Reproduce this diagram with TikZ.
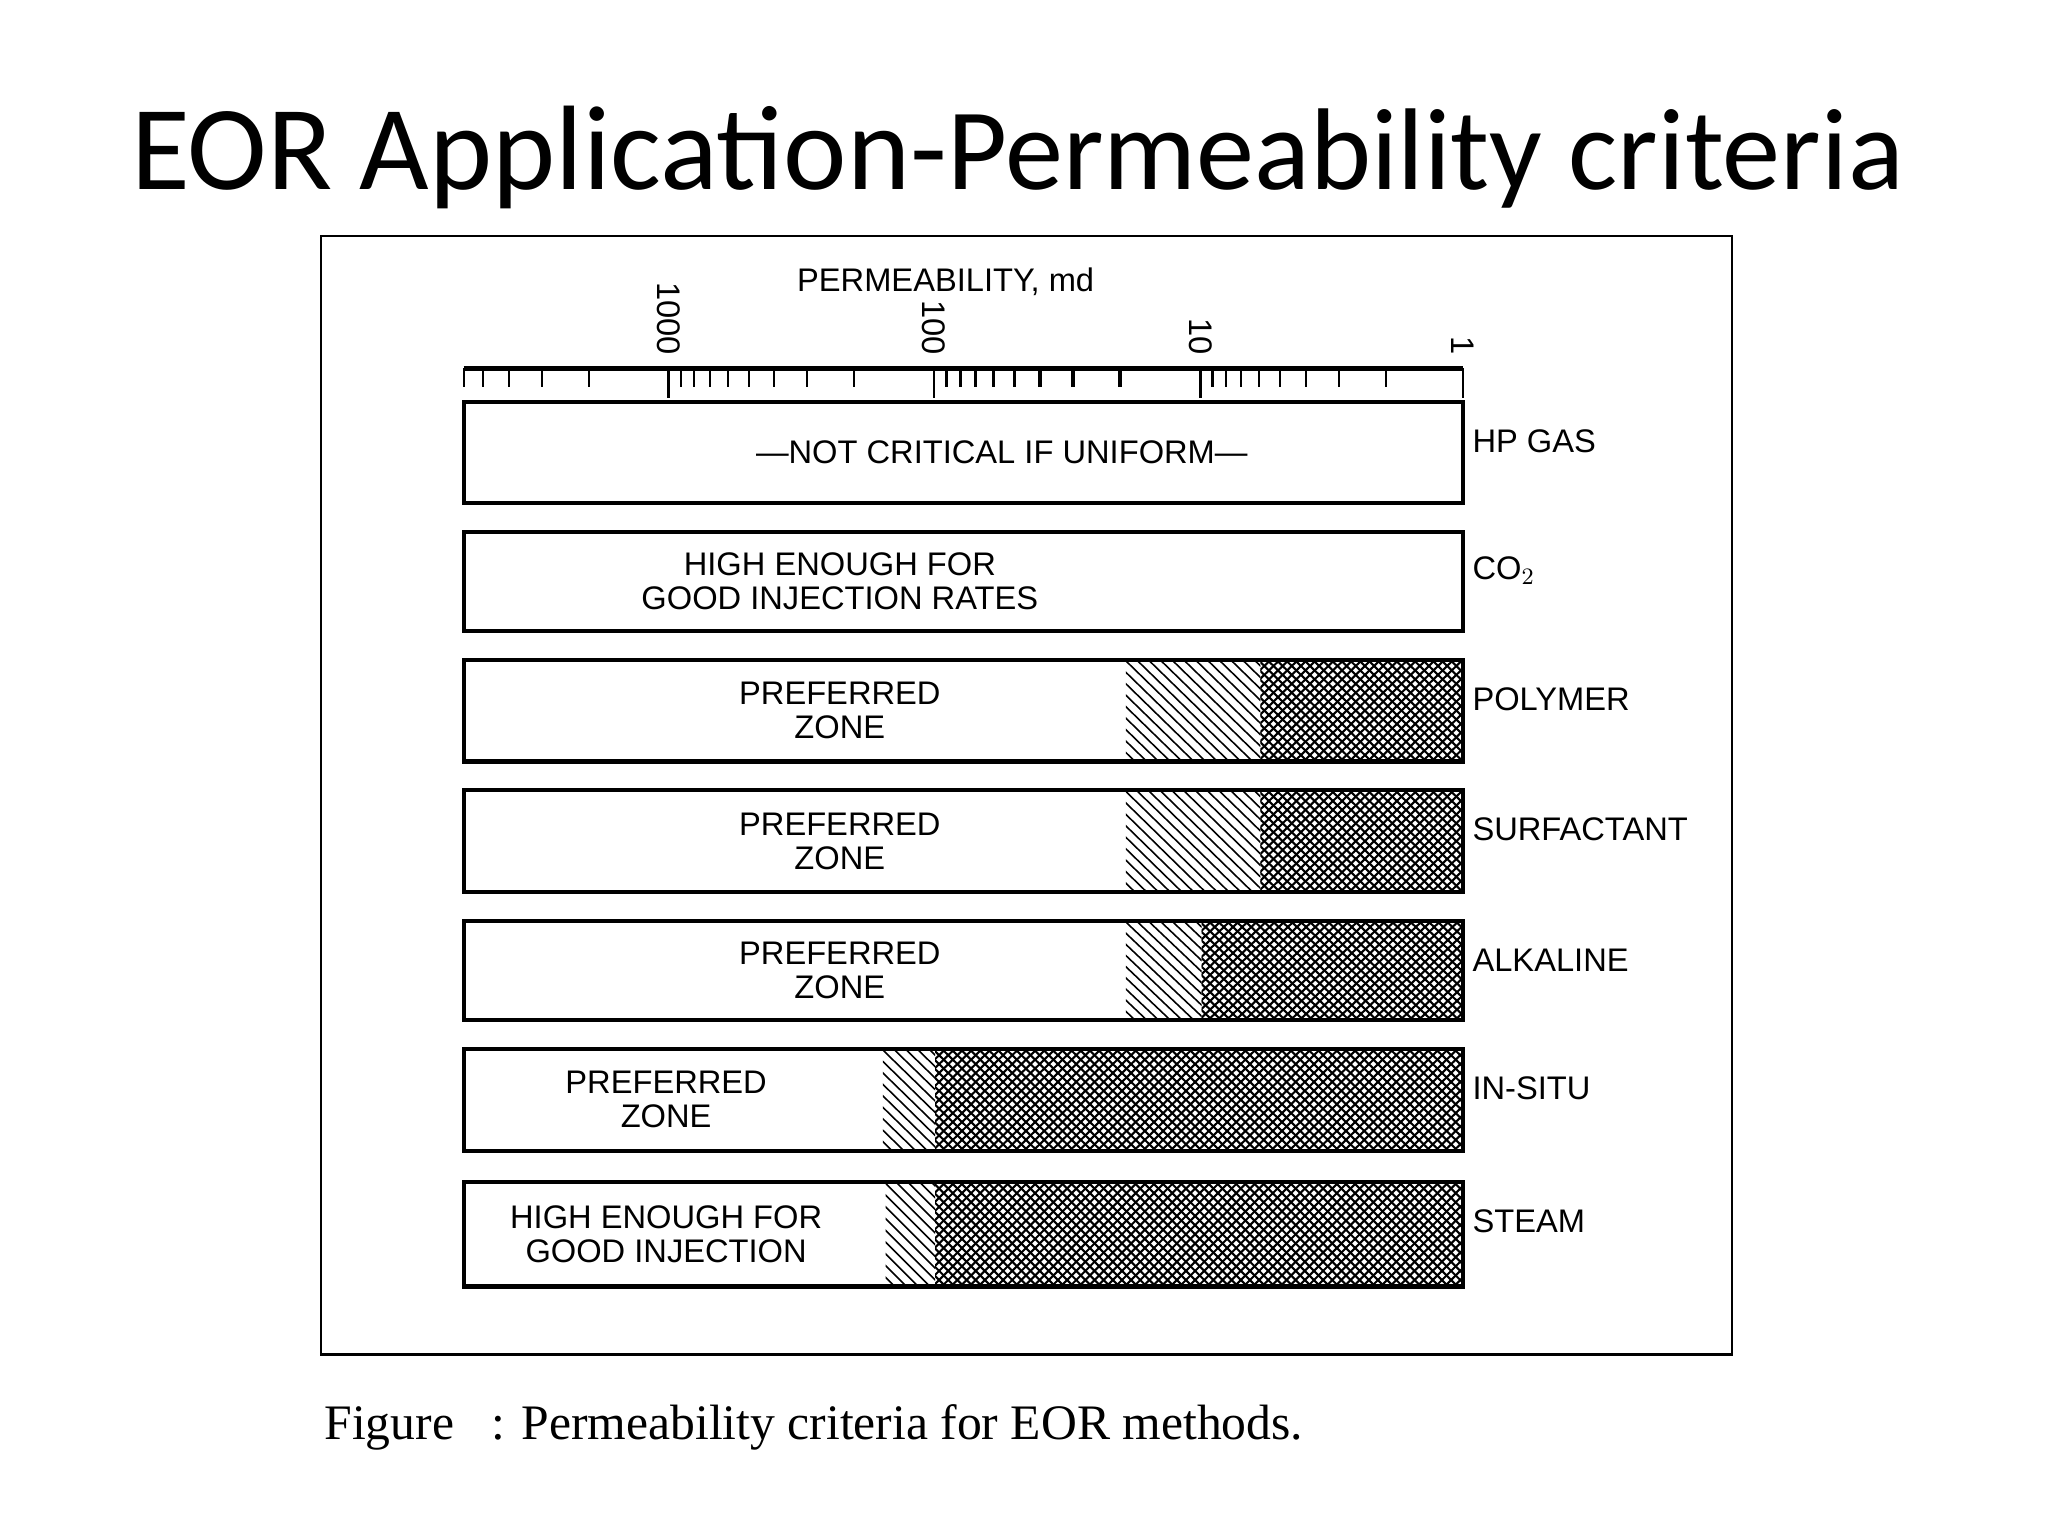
\documentclass[tikz,border=0pt]{standalone}
\usepackage{fontspec}
\setmainfont{Liberation Sans}
\newfontfamily\titlef{Carlito}
\newfontfamily\capf{Liberation Serif}
\begin{document}
\begin{tikzpicture}[x=0.5pt,y=-0.5pt,
  lab/.style={font=\fontsize{12.5}{13}\selectfont, inner sep=0pt, align=center},
  side/.style={font=\fontsize{12.5}{13}\selectfont, inner sep=0pt, anchor=west},
  bar/.style={draw, line width=1.6pt}]
\useasboundingbox (0,0) rectangle (1568,1176);
\fill[white] (0,0) rectangle (1568,1176);
\node[anchor=base west, inner sep=0pt] (title) at (100,145) {\titlef\fontsize{46}{50}\selectfont EOR Application-{\fontsize{44.5}{48}\selectfont Permeability criteria}};
\draw[line width=0.8pt] (246,181) rectangle (1326,1037);
\node[anchor=base west, inner sep=0pt] (cap) at (248,1102) {\capf\fontsize{19}{20}\selectfont Figure \ \ : Permeability criteria for EOR methods.};
% axis
\node[lab] (axt) at (724,216) {PERMEABILITY, md};
\draw[line width=2pt] (355,282) -- (1120,282);
\foreach \d/\v in {512/1000,715/100,919/10,1120/1}{
  \draw[line width=1pt] (\d,282) -- (\d,305);
  \node[lab, rotate=-90, anchor=east] at (\d,272) {\v};
}
\foreach \d in {512,715,919}{
  \foreach \m in {2,...,9}{
    \pgfmathsetmacro{\xx}{\d+203*(1-log10(\m))}
    \draw[line width=0.8pt] (\xx,282) -- (\xx,296);
    \pgfmathsetmacro{\xy}{\d-203*log10(\m)}
    \ifdim\xy pt>355pt \draw[line width=0.8pt] (\xy,282) -- (\xy,296);\fi
  }
}
\draw[line width=0.8pt] (355,282) -- (355,296);
\foreach \t/\b/\hs/\cs/\txt/\tx/\sd [count=\i] in {
 308/385/0/0/{---NOT CRITICAL IF UNIFORM---}/767/{HP GAS},
 407/483/0/0/{HIGH ENOUGH FOR\\GOOD INJECTION RATES}/643/{CO$_2$},
 505/583/862/965/{PREFERRED\\ZONE}/643/POLYMER,
 605/683/862/965/{PREFERRED\\ZONE}/643/SURFACTANT,
 705/781/862/920/{PREFERRED\\ZONE}/643/ALKALINE,
 803/881/676/716/{PREFERRED\\ZONE}/510/IN-SITU,
 905/985/678/716/{HIGH ENOUGH FOR\\GOOD INJECTION}/510/STEAM}{
  \ifnum\hs>0
  \begin{scope}
    \clip (\hs,\t) rectangle (\cs,\b);
    \foreach \k in {-100,-91,...,300} \draw[line width=0.6pt] (\hs+\k,\t) -- (\hs+\k+80,\b);
  \end{scope}
  \begin{scope}
    \clip (\cs,\t) rectangle (1120,\b);
    \foreach \k in {-100,-93,...,600} {
      \draw[line width=0.8pt] (\cs+\k,\t) -- (\cs+\k+80,\b);
      \draw[line width=0.8pt] (\cs+\k,\b) -- (\cs+\k+80,\t);}
  \end{scope}
  \fi
  \draw[bar] (355,\t) rectangle (1120,\b);
  \node[lab] (t\i) at (\tx,{(\t+\b)/2}) {\txt};
  \node[side] (s\i) at (1127,{\t+30}) {\sd};
}
\end{tikzpicture}
\end{document}
